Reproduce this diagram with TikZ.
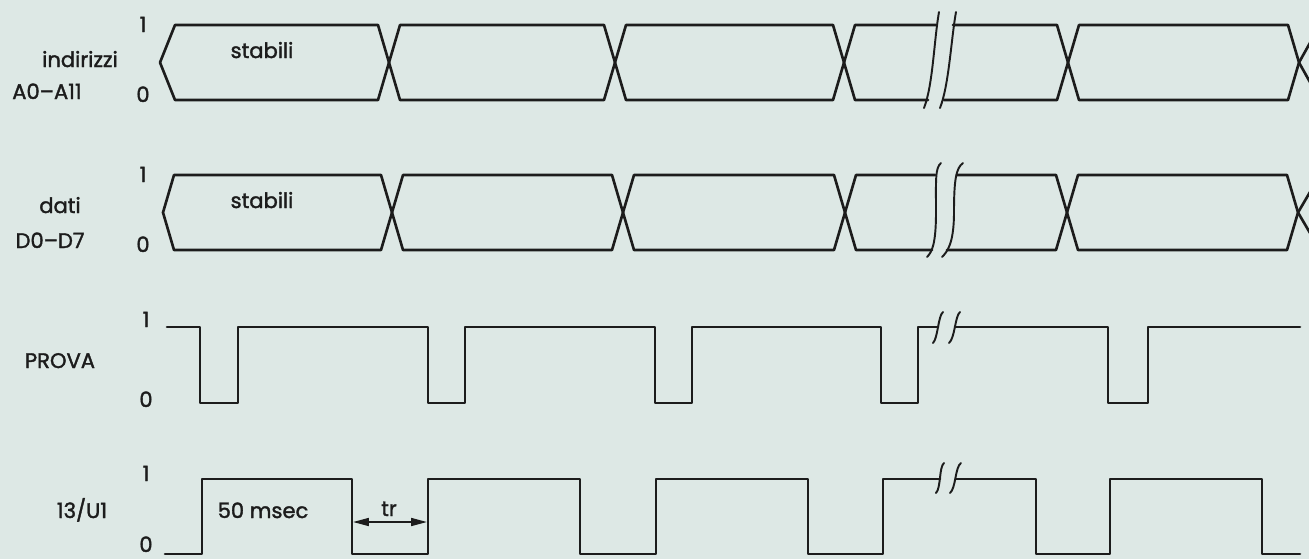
\documentclass[tikz,border=0pt]{standalone}
\usepackage{fontspec}
\setmainfont{Poppins}
\newfontfamily\lblfont{Poppins}[FakeBold=1.6]
\usetikzlibrary{arrows.meta}
\definecolor{bg}{RGB}{221,232,229}
\definecolor{ink}{RGB}{28,28,28}
\begin{document}
\begin{tikzpicture}[x=0.02cm,y=-0.02cm,
  sig/.style={line width=1.5pt, draw=ink, line join=round, line cap=round},
  brk/.style={line width=1.1pt, draw=ink, line cap=round},
  lbl/.style={font=\lblfont\fontsize{12}{14}\selectfont, text=ink, inner sep=0pt, anchor=base},
  tip/.style={{Triangle[length=9pt,width=4.5pt]}-{Triangle[length=9pt,width=4.5pt]}, line width=1pt, draw=ink}]
\fill[bg] (0,0) rectangle (1309,559);
\useasboundingbox (0,0) rectangle (1309,559);
\begin{scope}
\clip (0,0) rectangle (1309,559);
% ---------- row 1: indirizzi ----------
\draw[sig] (160,62.5) -- (175,25) -- (378,25) -- (389,62.5) -- (378,100) -- (175,100) -- cycle;
\draw[sig] (389,62.5) -- (400,25) -- (604,25) -- (615,62.5) -- (604,100) -- (400,100) -- cycle;
\draw[sig] (615,62.5) -- (626,25) -- (833,25) -- (844,62.5) -- (833,100) -- (626,100) -- cycle;
\draw[sig] (936,25) -- (855,25) -- (844,62.5) -- (855,100) -- (928,100);
\draw[sig] (953,25) -- (1057,25) -- (1068,62.5) -- (1057,100) -- (944,100);
\draw[sig] (1068,62.5) -- (1079,25) -- (1288,25) -- (1299,62.5) -- (1288,100) -- (1079,100) -- cycle;
\draw[sig] (1320,25) -- (1299,62.5) -- (1320,100);
\draw[brk] (939,12) .. controls (934,40) and (933,85) .. (924,108);
\draw[brk] (956,12) .. controls (951,40) and (949,85) .. (940,108);
% ---------- row 2: dati ----------
\draw[sig] (163,212.5) -- (174,175) -- (381,175) -- (392,212.5) -- (381,250) -- (174,250) -- cycle;
\draw[sig] (392,212.5) -- (403,175) -- (612,175) -- (623,212.5) -- (612,250) -- (403,250) -- cycle;
\draw[sig] (623,212.5) -- (634,175) -- (834,175) -- (845,212.5) -- (834,250) -- (634,250) -- cycle;
\draw[sig] (935,175) -- (856,175) -- (845,212.5) -- (856,250) -- (932,250);
\draw[sig] (957,175) -- (1056,175) -- (1067,212.5) -- (1056,250) -- (947,250);
\draw[sig] (1067,212.5) -- (1078,175) -- (1287,175) -- (1298,212.5) -- (1287,250) -- (1078,250) -- cycle;
\draw[sig] (1320,175) -- (1298,212.5) -- (1320,250);
\draw[brk] (941,163) .. controls (935,168) and (936,180) .. (936,212) .. controls (936,244) and (932,252) .. (927,257);
\draw[brk] (963,163) .. controls (956,168) and (954,180) .. (954,212) .. controls (954,244) and (947,252) .. (942,257);
% ---------- row 3: PROVA ----------
\draw[sig] (167,327) -- (200,327) -- (200,403) -- (238,403) -- (238,327) -- (428,327) -- (428,403) -- (465,403) -- (465,327)
  -- (655,327) -- (655,403) -- (692,403) -- (692,327) -- (881,327) -- (881,403) -- (918,403) -- (918,327) -- (938,327);
\draw[sig] (955,327) -- (1108,327) -- (1108,403) -- (1148,403) -- (1148,327) -- (1300,327);
\draw[brk] (943,312) .. controls (938,316) and (938,338) .. (933,343);
\draw[brk] (960,312) .. controls (955,316) and (955,338) .. (949,343);
% ---------- row 4: 13/U1 ----------
\draw[sig] (165,554) -- (202,554) -- (202,479) -- (352,479) -- (352,554) -- (428,554) -- (428,479) -- (580,479) -- (580,554)
  -- (656,554) -- (656,479) -- (808,479) -- (808,554) -- (883,554) -- (883,479) -- (940,479);
\draw[sig] (956,479) -- (1036,479) -- (1036,554) -- (1110,554) -- (1110,479) -- (1262,479) -- (1262,554) -- (1300,554);
\draw[brk] (944,463) .. controls (939,467) and (941,488) .. (936,493);
\draw[brk] (961,463) .. controls (955,467) and (956,488) .. (950,493);
\end{scope}
% tr arrow
\coordinate (fall1) at (353,522);
\coordinate (rise1) at (427,522);
\draw[tip] (fall1) -- (rise1);
% ---------- labels ----------
\node[lbl] (ind) at (80,67) {indirizzi};
\node[lbl] (addr) at (47,99) {A0–A11};
\node[lbl] (a1) at (143,32) {1};
\node[lbl] (a0) at (143,102) {0};
\node[lbl] (st1) at (262,58) {stabili};
\node[lbl] (dat) at (60,213) {dati};
\node[lbl] (dbus) at (50,248) {D0–D7};
\node[lbl] (d1) at (143,182) {1};
\node[lbl] (d0) at (143,252) {0};
\node[lbl] (st2) at (262,208) {stabili};
\node[lbl] (prv) at (60,368) {PROVA};
\node[lbl] (p1) at (146,327) {1};
\node[lbl] (p0) at (146,407) {0};
\node[lbl] (u13) at (82,518) {13/U1};
\node[lbl] (u1) at (146,481) {1};
\node[lbl] (u0) at (146,552) {0};
\node[lbl] (ms) at (263,518) {50 msec};
\node[lbl] (tr) at (389,516) {tr};
\end{tikzpicture}
\end{document}
